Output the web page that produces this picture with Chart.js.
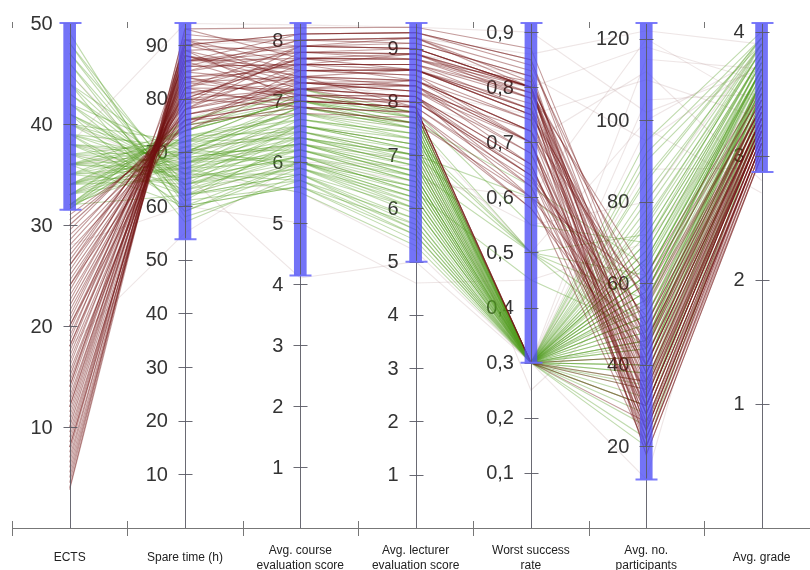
<!DOCTYPE html>
<html>
<head>
<meta charset="utf-8">
<script src="https://cdn.jsdelivr.net/npm/chart.js@4"></script>
<style>
  body { margin: 0; background: #fff; }
</style>
</head>
<body>
<canvas id="myChart" width="810" height="570"></canvas>
<script>
// axes

const axisNames = [
  ["ECTS"],
  ["Spare time (h)"],
  ["Avg. course", "evaluation score"],
  ["Avg. lecturer", "evaluation score"],
  ["Worst success", "rate"],
  ["Avg. no.", "participants"],
  ["Avg. grade"],
];
const axisMax = [50, 94.1, 8.28, 9.48, 0.9165, 123.9, 4.07];
const axisTicks = [
  [10, 20, 30, 40, 50],
  [10, 20, 30, 40, 50, 60, 70, 80, 90],
  [1, 2, 3, 4, 5, 6, 7, 8],
  [1, 2, 3, 4, 5, 6, 7, 8, 9],
  [0.1, 0.2, 0.3, 0.4, 0.5, 0.6, 0.7, 0.8, 0.9],
  [20, 40, 60, 80, 100, 120],
  [1, 2, 3, 4],
];
const brushLow = [31.5, 53.8, 4.14, 5.0, 0.3, 11.9, 2.87];
const brushHigh = [50, 94.1, 8.28, 9.48, 0.9165, 123.9, 4.07];

// courses: ECTS, spare time, course eval, lecturer eval, worst success, participants, grade

const greenCourses = [
  [48, 60, 6.0, 6.3, 0.3, 55, 3.8],
  [46, 62, 6.3, 6.8, 0.3, 62, 3.7],
  [44, 63, 6.1, 6.5, 0.3, 48, 3.6],
  [42, 65, 6.6, 7.2, 0.3, 70, 3.9],
  [41, 66, 6.4, 7.0, 0.3, 40, 3.5],
  [40, 67, 6.8, 7.5, 0.3, 58, 3.7],
  [40, 64, 5.9, 6.2, 0.3, 35, 3.4],
  [39, 68, 6.5, 7.1, 0.3, 66, 3.8],
  [39, 66, 6.2, 6.6, 0.3, 75, 3.9],
  [38, 69, 6.9, 7.6, 0.3, 44, 3.6],
  [38, 67, 6.0, 6.0, 0.3, 52, 3.5],
  [37, 70, 7.0, 7.7, 0.3, 30, 3.3],
  [37, 68, 6.6, 7.3, 0.3, 62, 3.7],
  [36, 71, 6.7, 7.4, 0.3, 80, 3.95],
  [36, 69, 6.3, 6.9, 0.3, 46, 3.6],
  [36, 66, 5.8, 5.7, 0.3, 38, 3.4],
  [35, 72, 7.1, 7.8, 0.3, 56, 3.6],
  [35, 70, 6.5, 7.0, 0.3, 68, 3.8],
  [35, 68, 6.1, 6.4, 0.3, 25, 3.3],
  [34, 73, 6.8, 7.6, 0.3, 42, 3.5],
  [34, 71, 6.4, 6.8, 0.3, 60, 3.7],
  [34, 69, 6.0, 6.1, 0.3, 72, 3.85],
  [33, 74, 7.0, 7.7, 0.3, 50, 3.6],
  [33, 72, 6.6, 7.2, 0.3, 34, 3.4],
  [33, 70, 6.2, 6.5, 0.3, 65, 3.75],
  [32, 75, 6.9, 7.5, 0.3, 45, 3.5],
  [32, 73, 6.5, 6.9, 0.3, 58, 3.65],
  [32, 71, 5.9, 5.9, 0.3, 78, 3.9],
  [31.6, 76, 7.2, 7.8, 0.3, 40, 3.45],
  [31.6, 73, 6.7, 7.3, 0.3, 52, 3.55],
  [45, 61, 5.6, 5.5, 0.3, 85, 3.95],
  [43, 64, 6.2, 6.7, 0.5, 62, 3.7],
  [41, 67, 6.6, 7.2, 0.5, 50, 3.6],
  [38, 70, 6.9, 7.6, 0.5, 44, 3.5],
  [36, 72, 6.4, 7.0, 0.6, 58, 3.7],
  [34, 74, 7.0, 7.8, 0.55, 70, 3.8],
  [49, 58, 5.7, 5.8, 0.3, 90, 3.9],
  [47, 61, 6.4, 6.9, 0.3, 66, 3.75],
  [37, 65, 6.1, 6.3, 0.45, 48, 3.55],
  [35, 67, 5.5, 5.3, 0.3, 32, 3.35],
  [33, 68, 6.3, 6.6, 0.3, 22, 3.25],
  [39, 62, 5.8, 5.6, 0.3, 60, 3.65],
  [42, 70, 6.9, 7.5, 0.3, 54, 3.6],
  [40, 72, 7.1, 7.8, 0.3, 76, 3.85],
  [38, 63, 5.9, 6.0, 0.3, 95, 4.0],
  [36, 60, 5.6, 5.4, 0.3, 42, 3.45],
  [34, 65, 6.1, 6.3, 0.3, 64, 3.7],
  [32, 68, 6.4, 6.8, 0.3, 36, 3.4],
  [44, 57, 5.8, 6.0, 0.3, 50, 3.55],
  [41, 59, 6.0, 6.4, 0.3, 82, 3.9],
  [43, 66, 6.7, 7.4, 0.3, 46, 3.65],
  [40, 69, 6.3, 6.7, 0.3, 28, 3.3],
  [37, 72, 6.8, 7.4, 0.3, 70, 3.8],
  [35, 74, 7.2, 7.7, 0.3, 54, 3.7],
  [33, 66, 5.7, 5.6, 0.3, 44, 3.5],
  [46, 59, 5.9, 6.1, 0.3, 74, 3.85],
  [42, 62, 6.0, 6.2, 0.3, 38, 3.45],
  [39, 71, 7.0, 7.6, 0.3, 62, 3.75],
  [36, 67, 6.2, 6.5, 0.3, 86, 3.95],
  [34, 70, 6.6, 7.1, 0.3, 48, 3.55],
  [32, 76, 7.1, 7.7, 0.3, 66, 3.8],
  [31.8, 70, 6.0, 6.2, 0.3, 30, 3.35],
  [48, 63, 6.5, 7.0, 0.5, 56, 3.65],
  [44, 68, 6.8, 7.3, 0.5, 72, 3.85],
  [38, 65, 6.3, 6.6, 0.3, 52, 3.6],
  [37, 62, 5.8, 5.8, 0.3, 68, 3.8],
  [35, 64, 6.0, 6.4, 0.3, 40, 3.5],
  [33, 75, 7.0, 7.5, 0.3, 58, 3.7],
  [41, 64, 6.1, 6.6, 0.3, 92, 3.95],
  [39, 60, 5.6, 5.7, 0.3, 46, 3.55],
  [36, 74, 7.0, 7.6, 0.62, 64, 3.75],
  [34, 67, 6.3, 6.7, 0.3, 20, 3.25],
  [47, 64, 6.6, 7.1, 0.3, 60, 3.7],
  [32, 62, 5.7, 5.5, 0.3, 56, 3.6],
];

const redCourses = [
  [3.8, 92, 7.9, 9.2, 0.8, 30, 3.2],
  [5, 91, 7.6, 8.9, 0.78, 22, 3.1],
  [6, 90, 8.1, 9.3, 0.85, 40, 3.3],
  [7, 89, 7.4, 8.6, 0.75, 18, 3.0],
  [8, 90, 7.8, 9.0, 0.8, 35, 3.25],
  [9, 88, 7.2, 8.4, 0.72, 26, 3.1],
  [10, 87, 7.7, 8.8, 0.79, 45, 3.35],
  [11, 88, 7.5, 8.5, 0.7, 20, 3.05],
  [12, 86, 8.0, 9.1, 0.82, 32, 3.2],
  [13, 85, 7.3, 8.3, 0.66, 28, 3.15],
  [14, 86, 7.6, 8.7, 0.76, 50, 3.4],
  [15, 84, 7.1, 8.0, 0.64, 24, 3.1],
  [16, 85, 7.8, 8.9, 0.8, 38, 3.3],
  [17, 83, 7.4, 8.4, 0.72, 42, 3.3],
  [18, 84, 7.0, 7.9, 0.62, 30, 3.2],
  [19, 82, 7.7, 8.6, 0.75, 55, 3.45],
  [20, 81, 7.3, 8.2, 0.68, 36, 3.25],
  [21, 82, 7.9, 9.0, 0.8, 20, 3.05],
  [22, 80, 7.2, 8.1, 0.6, 46, 3.35],
  [23, 79, 7.5, 8.5, 0.74, 26, 3.15],
  [24, 80, 6.9, 7.8, 0.6, 60, 3.5],
  [25, 78, 7.6, 8.7, 0.78, 34, 3.2],
  [26, 77, 7.1, 8.0, 0.65, 40, 3.3],
  [27, 78, 7.8, 8.8, 0.8, 28, 3.15],
  [28, 76, 7.0, 7.9, 0.63, 52, 3.4],
  [29, 75, 7.4, 8.3, 0.7, 22, 3.1],
  [30, 76, 6.8, 7.7, 0.58, 44, 3.35],
  [31, 74, 7.3, 8.2, 0.72, 38, 3.3],
  [4.5, 93, 8.2, 9.4, 0.87, 48, 3.4],
  [6.5, 91, 7.3, 8.2, 0.7, 25, 3.1],
  [8.5, 89, 7.0, 8.0, 0.64, 33, 3.2],
  [11.5, 87, 7.9, 9.0, 0.8, 58, 3.5],
  [14.5, 84, 7.5, 8.6, 0.77, 18, 3.0],
  [17.5, 85, 8.0, 9.2, 0.83, 30, 3.2],
  [20.5, 83, 7.6, 8.7, 0.79, 62, 3.55],
  [23.5, 81, 7.0, 7.9, 0.3, 36, 3.3],
  [26.5, 79, 7.2, 7.9, 0.3, 30, 3.2],
  [29.5, 77, 7.1, 7.8, 0.3, 42, 3.35],
  [12.5, 88, 7.4, 7.9, 0.3, 26, 3.15],
  [9.5, 86, 7.6, 8.4, 0.74, 40, 3.3],
  [15.5, 82, 7.2, 8.1, 0.66, 24, 3.1],
  [21.5, 80, 7.7, 8.8, 0.81, 46, 3.4],
  [27.5, 75, 6.9, 7.6, 0.6, 20, 3.0],
  [18.5, 87, 8.1, 9.3, 0.84, 54, 3.45],
  [24.5, 78, 7.3, 8.3, 0.7, 32, 3.25],
  [4, 93, 7.7, 8.9, 0.79, 38, 3.25],
  [5.5, 90, 7.5, 8.6, 0.76, 28, 3.15],
  [7.5, 91, 8.0, 9.2, 0.81, 44, 3.35],
  [10.5, 88, 7.3, 8.4, 0.7, 34, 3.2],
  [13.5, 87, 7.8, 8.9, 0.8, 24, 3.1],
  [16.5, 83, 7.1, 8.1, 0.64, 48, 3.4],
  [19.5, 84, 7.6, 8.6, 0.76, 32, 3.2],
  [22.5, 81, 7.4, 8.4, 0.72, 56, 3.45],
  [25.5, 79, 7.9, 9.0, 0.8, 42, 3.3],
  [28.5, 77, 7.2, 8.1, 0.66, 30, 3.2],
  [30.5, 75, 7.5, 8.6, 0.75, 50, 3.4],
  [8, 87, 7.1, 8.1, 0.62, 22, 3.05],
  [12, 89, 7.9, 9.1, 0.82, 36, 3.25],
  [18, 82, 6.9, 7.8, 0.58, 40, 3.3],
  [24, 76, 7.0, 7.9, 0.3, 34, 3.25],
  [26, 80, 7.7, 8.8, 0.78, 24, 3.1],
  [14, 90, 8.1, 9.3, 0.85, 46, 3.35],
  [20, 78, 7.2, 8.3, 0.68, 28, 3.15],
];

const greyCourses = [
  [36, 70, 6.6, 7.2, 0.3, 105, 3.5],
  [38, 68, 6.3, 6.9, 0.3, 115, 3.7],
  [20, 82, 7.6, 8.6, 0.8, 118, 3.6],
  [25, 78, 7.2, 8.2, 0.75, 110, 3.3],
  [34, 72, 6.8, 7.5, 0.5, 100, 3.8],
  [15, 86, 7.8, 8.9, 0.82, 95, 3.75],
  [40, 66, 4.1, 5.0, 0.3, 88, 2.9],
  [28, 60, 5.0, 4.6, 0.45, 70, 3.5],
  [45, 62, 6.0, 6.5, 0.6, 120, 3.4],
  [30, 76, 7.4, 8.0, 0.7, 112, 2.8],
  [33, 70, 6.5, 7.0, 0.3, 12, 3.6],
  [10, 90, 8.0, 9.2, 0.86, 122, 3.9],
  [38, 94, 8.25, 9.4, 0.9, 102, 3.7],
  [22, 80, 7.0, 7.9, 0.25, 60, 3.6],
  [37, 66, 5.5, 5.2, 0.3, 98, 2.7],
  [18, 55, 6.0, 6.8, 0.55, 80, 3.9],
];

const lineColors = {
  grey: "rgba(170, 130, 130, 0.2)",
  green: "rgba(80, 155, 30, 0.36)",
  red: "rgba(115, 20, 20, 0.42)",
};

function toPoints(row) {
  return row.map((v, i) => ({ x: i, y: v / axisMax[i] }));
}

function lineSets(rows, color, order) {
  return rows.map((row) => ({
    type: "line",
    data: toPoints(row),
    borderColor: color,
    borderWidth: 1.1,
    pointRadius: 0,
    tension: 0,
    fill: false,
    order: order,
  }));
}

const brushSet = {
  type: "bar",
  data: brushLow.map((lo, i) => ({ x: i, y: [lo / axisMax[i], brushHigh[i] / axisMax[i]] })),
  backgroundColor: "rgba(80, 80, 245, 0.8)",
  borderWidth: 0,
  barThickness: 12,
  order: 0,
};

function tickText(v) {
  return String(v).replace(".", ",");
}

const parallelAxes = {
  id: "parallelAxes",
  beforeDatasetsDraw(chart) {
    const { ctx, chartArea, scales: { x, y } } = chart;
    ctx.save();
    ctx.fillStyle = "#333";
    ctx.font = "20px 'Liberation Sans', Arial, sans-serif";
    ctx.textAlign = "right";
    ctx.textBaseline = "middle";
    axisTicks.forEach((ticks, i) => {
      const px = x.getPixelForValue(i);
      ticks.forEach((t) => {
        ctx.fillText(tickText(t), px - 17, y.getPixelForValue(t / axisMax[i]) + 1);
      });
    });

    // base line, dividers, names
    ctx.strokeStyle = "#777";
    ctx.lineWidth = 1;
    ctx.beginPath();
    ctx.moveTo(chartArea.left, chartArea.bottom + 0.5);
    ctx.lineTo(chart.width, chartArea.bottom + 0.5);
    for (let i = 0; i < axisNames.length; i++) {
      const bx = Math.round(x.getPixelForValue(i - 0.5)) + 0.5;
      ctx.moveTo(bx, chartArea.bottom - 7);
      ctx.lineTo(bx, chartArea.bottom + 8);
      ctx.moveTo(bx, chartArea.top - 1);
      ctx.lineTo(bx, chartArea.top + 5);
    }
    ctx.stroke();

    ctx.fillStyle = "#222";
    ctx.font = "12px 'Liberation Sans', Arial, sans-serif";
    ctx.textAlign = "center";
    axisNames.forEach((lines, i) => {
      const px = x.getPixelForValue(i);
      if (lines.length == 1) {
        ctx.fillText(lines[0], px, 558);
      } else {
        ctx.fillText(lines[0], px, 551);
        ctx.fillText(lines[1], px, 566);
      }
    });
    ctx.restore();
  },
  afterDatasetsDraw(chart) {
    const { ctx, chartArea, scales: { x, y } } = chart;
    ctx.save();
    axisTicks.forEach((ticks, i) => {
      const px = Math.round(x.getPixelForValue(i)) + 0.5;
      ctx.strokeStyle = "rgba(90, 90, 100, 0.9)";
      ctx.lineWidth = 1;
      ctx.beginPath();
      ctx.moveTo(px, chartArea.top);
      ctx.lineTo(px, chartArea.bottom);
      ticks.forEach((t) => {
        const py = Math.round(y.getPixelForValue(t / axisMax[i])) + 0.5;
        ctx.moveTo(px - 7, py);
        ctx.lineTo(px + 7, py);
      });
      ctx.stroke();

      // brush caps
      ctx.strokeStyle = "rgba(110, 110, 250, 0.9)";
      ctx.lineWidth = 2;
      ctx.beginPath();
      [brushLow[i], brushHigh[i]].forEach((v) => {
        const py = y.getPixelForValue(v / axisMax[i]);
        ctx.moveTo(px - 11, py);
        ctx.lineTo(px + 11, py);
      });
      ctx.stroke();
    });
    ctx.restore();
  },
};

const myChart = new Chart("myChart", {
  type: "line",
  data: {
    datasets: [
      brushSet,
      ...lineSets(redCourses, lineColors.red, 1),
      ...lineSets(greenCourses, lineColors.green, 2),
      ...lineSets(greyCourses, lineColors.grey, 3),
    ],
  },
  options: {
    responsive: false,
    animation: false,
    events: [],
    layout: { padding: { left: 12, right: 0, top: 23, bottom: 42 } },
    scales: {
      x: { type: "linear", min: -0.5, max: 6.42, offset: false, display: false },
      y: { type: "linear", min: 0, max: 1, display: false },
    },
    plugins: {
      legend: { display: false },
      tooltip: { enabled: false },
    },
  },
  plugins: [parallelAxes],
});
</script>
</body>
</html>
